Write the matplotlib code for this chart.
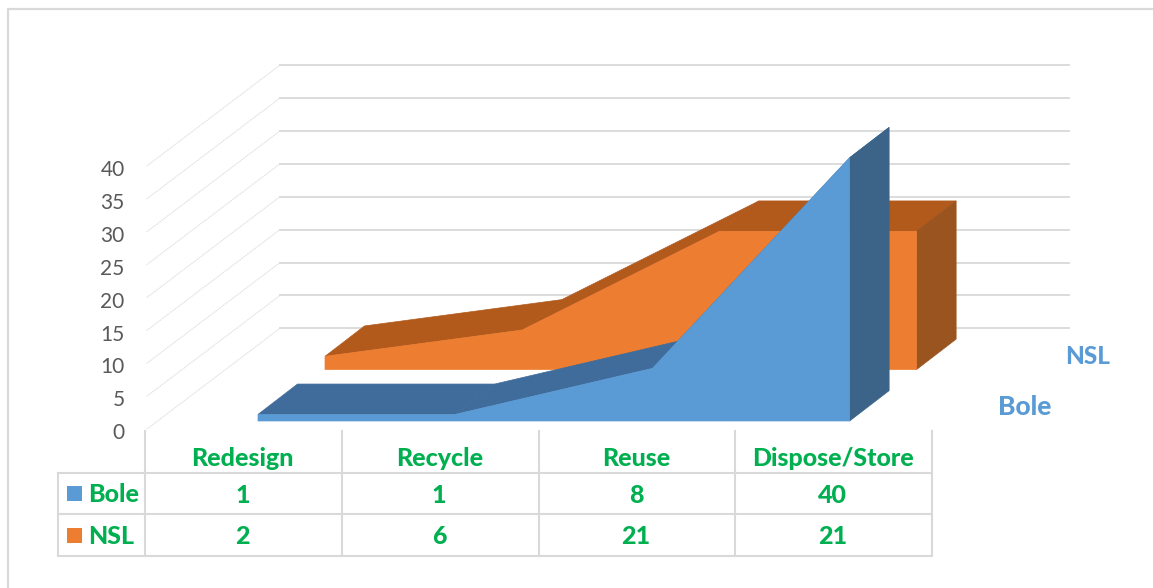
import matplotlib
matplotlib.use("Agg")
import matplotlib.pyplot as plt
from matplotlib.patches import Polygon, Rectangle

plt.rcParams['font.family'] = ['Lato', 'DejaVu Sans']

categories = ["Redesign", "Recycle", "Reuse", "Dispose/Store"]
bole = [1, 1, 8, 40]
nsl = [2, 6, 21, 21]
ticks = [0, 5, 10, 15, 20, 25, 30, 35, 40]

BLUE, BLUE_TOP, BLUE_SIDE = "#5B9BD5", "#3F6C9A", "#3B6488"
ORANGE, ORANGE_TOP, ORANGE_SIDE = "#ED7D31", "#B25A1C", "#99541F"
GREEN = "#00B050"
GRID = "#D9D9D9"

W, H = 1153, 588
fig = plt.figure(figsize=(W / 100, H / 100), dpi=100, facecolor="white")
ax = fig.add_axes([0, 0, 1, 1])
ax.set_xlim(0, W)
ax.set_ylim(H, 0)
ax.axis("off")

CW = 197.2      # category width
VS = 6.58       # pixels per value unit
DX, DY = 67.0, 51.5  # series step in depth


def P(i, v, d):
    """Oblique projection: category index, value, depth -> canvas position."""
    return (258 + CW * i + DX * d, 421 - VS * v - DY * d)


# chart frame: only the left and top edges are inside the picture
ax.plot([8, 8, W], [H, 9, 9], color="#D9D9D9", lw=1.6, zorder=1)

# gridlines: floor/side wall and back wall
for t in ticks:
    a = P(-0.5, t, -0.16)
    b = P(-0.5, t, 1.8)
    c = P(3.5, t, 1.8)
    ax.plot([a[0] - 2, b[0]], [a[1], b[1]], color="#E2E2E2", lw=0.8, ls=(0, (1.5, 0.6)), zorder=1)
    ax.plot([b[0], c[0]], [b[1], c[1]], color=GRID, lw=1.3, zorder=1)
    ax.text(a[0] - 24, a[1] + 4, str(t), ha="right", va="center", fontsize=15, color="#595959", zorder=2)


def area(values, d, thick, front, top, side, z):
    n = len(values)
    for k in range(n - 1):
        ax.add_patch(Polygon([P(k, values[k], d), P(k + 1, values[k + 1], d),
                              P(k + 1, values[k + 1], d + thick), P(k, values[k], d + thick)],
                             fc=top, ec=top, lw=0.5, zorder=z))
    ax.add_patch(Polygon([P(n - 1, 0, d), P(n - 1, values[-1], d),
                          P(n - 1, values[-1], d + thick), P(n - 1, 0, d + thick)],
                         fc=side, ec=side, lw=0.5, zorder=z + 0.1))
    pts = [P(0, 0, d)] + [P(k, values[k], d) for k in range(n)] + [P(n - 1, 0, d)]
    ax.add_patch(Polygon(pts, fc=front, ec=front, lw=0.5, zorder=z + 0.2))


area(nsl, 1, 0.59, ORANGE, ORANGE_TOP, ORANGE_SIDE, 3)
area(bole, 0, 0.59, BLUE, BLUE_TOP, BLUE_SIDE, 4)

# depth axis labels
ax.text(1087.5, 357, "NSL", ha="center", va="center", fontsize=17.5, fontweight="black", color=BLUE)
ax.text(1024.5, 407, "Bole", ha="center", va="center", fontsize=19, fontweight="black", color=BLUE)

# data table
X0 = 145
TW = 196.8
xs = [X0 + TW * k for k in range(len(categories) + 1)]
T0, R1, R2, R3 = 431, 473, 514, 556
LEFT = 58
for x in xs:
    ax.plot([x, x], [T0, R3], color=GRID, lw=1.5, zorder=2)
ax.plot([LEFT, LEFT], [R1, R3], color=GRID, lw=1.5, zorder=2)
for y in (R1, R2, R3):
    ax.plot([LEFT, xs[-1]], [y, y], color=GRID, lw=1.5, zorder=2)

rows = [("Bole", bole, BLUE, (R1 + R2) / 2), ("NSL", nsl, ORANGE, (R2 + R3) / 2)]
for k, c in enumerate(categories):
    cx = (xs[k] + xs[k + 1]) / 2
    ax.text(cx - 1, (T0 + R1) / 2 + 6.5, c, ha="center", va="center", fontsize=18, fontweight="black", color=GREEN)
    for name, vals, col, yc in rows:
        ax.text(cx - 1, yc + 2, str(vals[k]), ha="center", va="center", fontsize=18, fontweight="black", color=GREEN)
for name, vals, col, yc in rows:
    ax.add_patch(Rectangle((67, yc - 7.5), 15, 15, fc=col, ec="none", zorder=3))
    ax.text(88, yc + 1, name, ha="left", va="center", fontsize=18, fontweight="black", color=GREEN)

fig.savefig("out.png", dpi=100, facecolor="white")
